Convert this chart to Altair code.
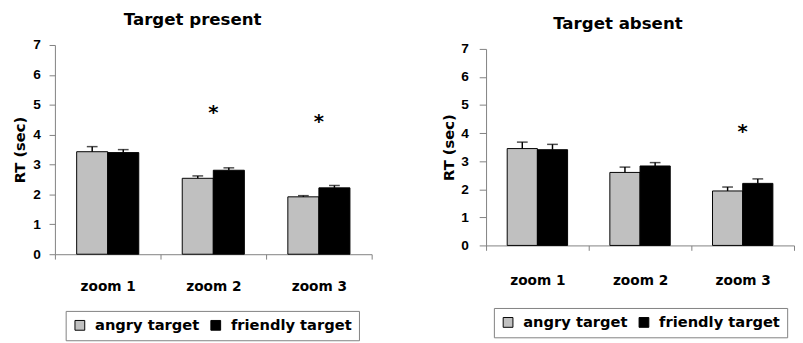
import altair as alt
import pandas as pd

zooms = ["zoom 1", "zoom 2", "zoom 3"]
targets = ["angry target", "friendly target"]
y_ticks = [0, 1, 2, 3, 4, 5, 6, 7]

present_angry = [3.43, 2.54, 1.92]
present_angry_err = [0.17, 0.08, 0.04]
present_friendly = [3.40, 2.81, 2.22]
present_friendly_err = [0.10, 0.08, 0.08]
present_star_zoom = ["zoom 2", "zoom 3"]
present_star_y = [4.8, 4.49]

absent_angry = [3.45, 2.60, 1.94]
absent_angry_err = [0.23, 0.19, 0.14]
absent_friendly = [3.41, 2.83, 2.21]
absent_friendly_err = [0.19, 0.12, 0.16]
absent_star_zoom = ["zoom 3"]
absent_star_y = [4.1]

SANS = "DejaVu Sans"
NUM = "Liberation Sans"
GREY = "#808080"


def make_df(angry, angry_err, friendly, friendly_err):
    rows = []
    for z, v, e in zip(zooms, angry, angry_err):
        rows.append({"zoom": z, "target": targets[0], "value": v, "upper": v + e})
    for z, v, e in zip(zooms, friendly, friendly_err):
        rows.append({"zoom": z, "target": targets[1], "value": v, "upper": v + e})
    return pd.DataFrame(rows)


def panel(df, stars, title, width, height, yrange, xlabpad, ylabpad, ytick, legx, legy):
    xaxis = alt.Axis(
        title=None, tickBand="extent", labelAngle=0, labelPadding=xlabpad, tickSize=5,
        labelFont=SANS, labelFontSize=14, labelFontWeight="bold", labelColor="black",
        domainColor=GREY, tickColor=GREY, grid=False, orient="bottom",
    )
    xscale = alt.Scale(domain=zooms, paddingInner=0, paddingOuter=0)
    xoff = alt.XOffset("target:N", scale=alt.Scale(domain=targets, paddingInner=0, paddingOuter=0.7))
    if yrange is None:
        yscale = alt.Scale(domain=[0, 7], nice=False, zero=True)
    else:
        yscale = alt.Scale(domain=[0, 7], nice=False, zero=True, range=yrange)
    yaxis = alt.Axis(
        values=y_ticks, title="RT (sec)", labelPadding=ylabpad, tickSize=ytick,
        labelFont=NUM, labelFontSize=14, labelFontWeight="bold", labelColor="black",
        titleFont=SANS, titleFontSize=15, titleFontWeight="bold", titleColor="black",
        titlePadding=5, domainColor=GREY, tickColor=GREY, grid=False, orient="left",
    )

    legend = alt.Legend(
        title=None, orient="none", legendX=legx, legendY=legy, direction="horizontal",
        strokeColor=GREY, fillColor="white", padding=7,
        symbolType="square", symbolSize=100, symbolStrokeColor="black", symbolStrokeWidth=1,
        labelFont=SANS, labelFontWeight="bold", labelFontSize=15, labelColor="black",
        labelOffset=8, columnPadding=9,
    )
    bars = alt.Chart(df).mark_bar(stroke="black", strokeWidth=1).encode(
        x=alt.X("zoom:N", scale=xscale, axis=xaxis, sort=zooms), xOffset=xoff,
        y=alt.Y("value:Q", scale=yscale, axis=yaxis),
        color=alt.Color("target:N", scale=alt.Scale(domain=targets, range=["#c0c0c0", "#000000"]), legend=legend),
    )
    xnone = alt.X("zoom:N", scale=xscale, axis=None, sort=zooms)
    rules = alt.Chart(df).mark_rule(color="black", strokeWidth=1.5).encode(
        x=xnone, xOffset=xoff,
        y=alt.Y("value:Q", scale=yscale, axis=None), y2="upper:Q",
    )
    caps = alt.Chart(df).mark_tick(color="black", thickness=1.5, size=11).encode(
        x=xnone, xOffset=xoff,
        y=alt.Y("upper:Q", scale=yscale, axis=None),
    )
    star = alt.Chart(stars).mark_text(text="*", font=SANS, fontWeight="bold", fontSize=20,
                                      color="black", baseline="middle", dy=2).encode(
        x=xnone, y=alt.Y("star:Q", scale=yscale, axis=None),
    )
    return alt.layer(bars, rules, caps, star).resolve_axis(
        x="independent", y="independent"
    ).properties(
        width=width, height=height,
        title=alt.TitleParams(title, baseline="alphabetic", offset=-4, font=SANS, fontSize=17,
                              fontWeight="bold", color="black", frame="bounds", anchor="middle"),
    )


present_df = make_df(present_angry, present_angry_err, present_friendly, present_friendly_err)
absent_df = make_df(absent_angry, absent_angry_err, absent_friendly, absent_friendly_err)
present_stars = pd.DataFrame({"zoom": present_star_zoom, "star": present_star_y})
absent_stars = pd.DataFrame({"zoom": absent_star_zoom, "star": absent_star_y})

left = panel(present_df, present_stars, "Target present", 324, 214, None, 21, 9, 6, 11, 272)
right = panel(absent_df, absent_stars, "Target absent", 315, 205, [205, 4], 24, 11, 7, 8, 269)

chart = alt.hconcat(left, right, spacing=70).resolve_scale(
    x="independent", y="independent", xOffset="independent"
).resolve_legend(color="independent").properties(
    padding={"left": 5, "top": 0, "right": 0, "bottom": 0}
).configure(
    view=alt.ViewConfig(stroke=None),
    axisLeft=alt.AxisConfig(
        labelFont=NUM, labelFontSize=14, labelFontWeight="bold", labelColor="black",
        titleFont=SANS, titleFontSize=15, titleFontWeight="bold", titleColor="black",
    ),
    style={
        "guide-label": {"font": NUM, "fontSize": 14, "fontWeight": "bold", "fill": "black"},
        "guide-title": {"font": SANS, "fontSize": 15, "fontWeight": "bold", "fill": "black"},
    },
)

chart.save("out.html", embed_options={"renderer": "svg", "actions": False})
